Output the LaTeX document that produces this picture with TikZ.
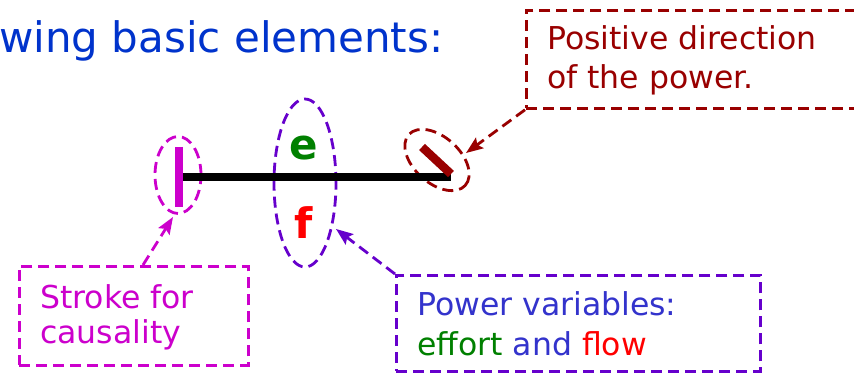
\documentclass[tikz,border=0pt]{standalone}
\usepackage{fontspec}
\setmainfont{DejaVu Sans}
\usetikzlibrary{shapes.geometric,arrows.meta}
\definecolor{ttlblue}{HTML}{0033CC}
\definecolor{pwblue}{HTML}{3333CC}
\definecolor{dred}{HTML}{990000}
\definecolor{mag}{HTML}{CC00CC}
\definecolor{purp}{HTML}{6600CC}
\definecolor{efgreen}{HTML}{008000}
\definecolor{flred}{HTML}{FF0000}
\begin{document}
\begin{tikzpicture}[x=1pt,y=-1pt,
  dsh/.style={line width=2.8pt, dash pattern=on 11pt off 6pt},
  ell/.style={dsh, ellipse, fill=white, inner sep=0pt},
  cbox/.style={dsh, fill=white},
  btxt/.style={anchor=base west, inner sep=0pt, font=\fontsize{31.5}{38}\selectfont},
  bigl/.style={anchor=base, inner sep=0pt, font=\fontsize{42}{50}\selectfont\bfseries},
  arr/.style={dsh, -{Stealth[length=17pt,width=13pt,inset=3pt]}},
  strk/.style={line width=8.5pt}
]
\useasboundingbox (0,0) rectangle (854,374);
\clip (0,0) rectangle (854,374);
\fill[white] (0,0) rectangle (854,374);

% title
\node[anchor=base west, inner sep=0pt, text=ttlblue, font=\fontsize{42}{50}\selectfont] (title) at (-1,53) {wing basic elements:};

% ellipses
\node[ell, draw=purp, minimum width=62pt, minimum height=168pt] (pe) at (305,183) {};
\node[ell, draw=mag, minimum width=46pt, minimum height=77pt] (me) at (178,175) {};
\node[ell, draw=dred, minimum width=76pt, minimum height=46pt, rotate=-42] (re) at (437,160) {};

% bond
\coordinate (bl) at (183,177);
\coordinate (br) at (451,177);
\draw[line width=8pt, black] (bl) -- (br);

% causal stroke
\coordinate (cs1) at (179,147);
\coordinate (cs2) at (179,207);
\draw[strk, mag] (cs1) -- (cs2);

% half arrow stroke
\coordinate (hs1) at (422,147);
\coordinate (hs2) at (451,174);
\draw[strk, dred] (hs1) -- (hs2);

% e and f
\node[bigl, text=efgreen] (e) at (304,160) {e};
\node[bigl, text=flred] (f) at (304,238) {f};

% boxes
\node[cbox, draw=dred, anchor=north west, minimum width=337pt, minimum height=98pt, inner sep=0pt] (rb) at (525,9) {};
\node[cbox, draw=mag, anchor=north west, minimum width=229pt, minimum height=99pt, inner sep=0pt] (mb) at (18,265) {};
\node[cbox, draw=purp, anchor=north west, minimum width=364pt, minimum height=96pt, inner sep=0pt] (pb) at (395,274) {};

% box texts
\node[btxt, text=dred] (rt1) at (547,50) {Positive direction};
\node[btxt, text=dred] (rt2) at (547,89) {of the power.};
\node[btxt, text=mag] (mt1) at (40,308) {Stroke for};
\node[btxt, text=mag] (mt2) at (40,343) {causality};
\node[btxt, text=pwblue] (pt1) at (417,315) {Power variables:};
\node[btxt] (pt2) at (417,355) {\textcolor{efgreen}{effort} \textcolor{pwblue}{and} \textcolor{flred}{flow}};

% arrows
\coordinate (rtip) at (466,153);
\coordinate (ms) at (143,265);
\coordinate (mtip) at (173,217);
\coordinate (ptip) at (336,229);
\draw[arr, dred] (rb.south west) -- (rtip);
\draw[arr, mag] (ms) -- (mtip);
\draw[arr, purp] (pb.north west) -- (ptip);
\end{tikzpicture}
\end{document}
